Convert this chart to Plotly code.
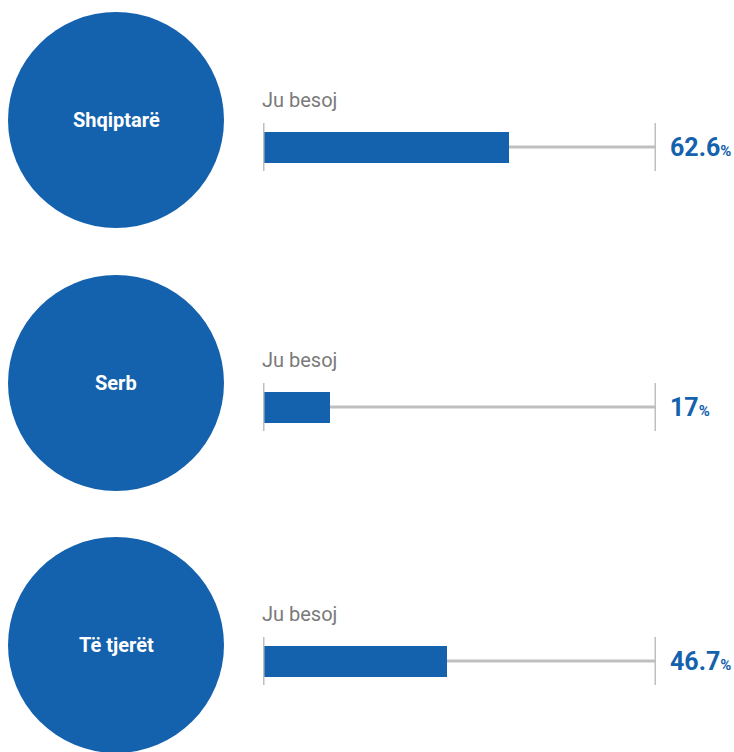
import plotly.graph_objects as go

groups = ["Shqiptarë", "Serb", "Të tjerët"]
values = [62.6, 17, 46.7]
value_labels = ["62.6", "17", "46.7"]
bar_caption = "Ju besoj"

# layout constants (pixel geometry)
W, H = 734, 752
ROW_Y = [147, 407, 661]
CIRCLE_CY = [120, 383, 645]
CIRCLE_R = 108
CIRCLE_CX = 116
TRACK_X0, TRACK_X1 = 263, 656
BLUE = "#1461AD"
GRAY = "#BFBFBF"
FONT = "Roboto, Liberation Sans, sans-serif"

fig = go.Figure()
fig.add_trace(go.Bar(
    x=values, y=ROW_Y, orientation="h", width=31,
    marker=dict(color=BLUE, line=dict(width=0)),
    hoverinfo="skip", showlegend=False,
))

shapes = []
annotations = []
for i, g in enumerate(groups):
    y = ROW_Y[i]
    shapes.append(dict(type="line", xref="x", yref="y", x0=0, x1=100, y0=y, y1=y,
                       line=dict(color=GRAY, width=3), layer="below"))
    for xv in (0, 100):
        shapes.append(dict(type="line", xref="x", yref="y", x0=xv, x1=xv, y0=y - 24, y1=y + 24,
                           line=dict(color=GRAY, width=3), layer="above" if xv == 0 else "below"))
    cy = CIRCLE_CY[i]
    shapes.append(dict(type="circle", xref="paper", yref="y",
                       x0=(CIRCLE_CX - CIRCLE_R) / W, x1=(CIRCLE_CX + CIRCLE_R) / W,
                       y0=cy - CIRCLE_R, y1=cy + CIRCLE_R,
                       fillcolor=BLUE, line=dict(width=0), layer="below"))
    annotations.append(dict(xref="paper", yref="y", x=CIRCLE_CX / W, y=cy, text="<b>%s</b>" % g,
                            showarrow=False, font=dict(family=FONT, size=20, color="white"),
                            xanchor="center", yanchor="middle"))
    annotations.append(dict(xref="x", yref="y", x=0, y=y - 47, text=bar_caption, showarrow=False,
                            font=dict(family=FONT, size=20, color="#7A7A7A"),
                            xanchor="left", yanchor="middle", xshift=-3))
    annotations.append(dict(xref="x", yref="y", x=100, y=y, showarrow=False,
                            text="<b>%s</b><b><span style='font-size:15px'>%%</span></b>" % value_labels[i],
                            font=dict(family=FONT, size=25, color=BLUE),
                            xanchor="left", yanchor="middle", xshift=12))

fig.update_layout(
    width=W, height=H,
    margin=dict(l=0, r=0, t=0, b=0),
    paper_bgcolor="white", plot_bgcolor="rgba(0,0,0,0)",
    xaxis=dict(domain=[TRACK_X0 / W, TRACK_X1 / W], range=[0, 100], visible=False, fixedrange=True),
    yaxis=dict(domain=[0, 1], range=[H, 0], visible=False, fixedrange=True),
    shapes=shapes, annotations=annotations, bargap=0,
)
fig.write_html("out.html", config={"displayModeBar": False},
               post_script="document.body.style.margin='0';document.body.style.overflow='hidden';")
